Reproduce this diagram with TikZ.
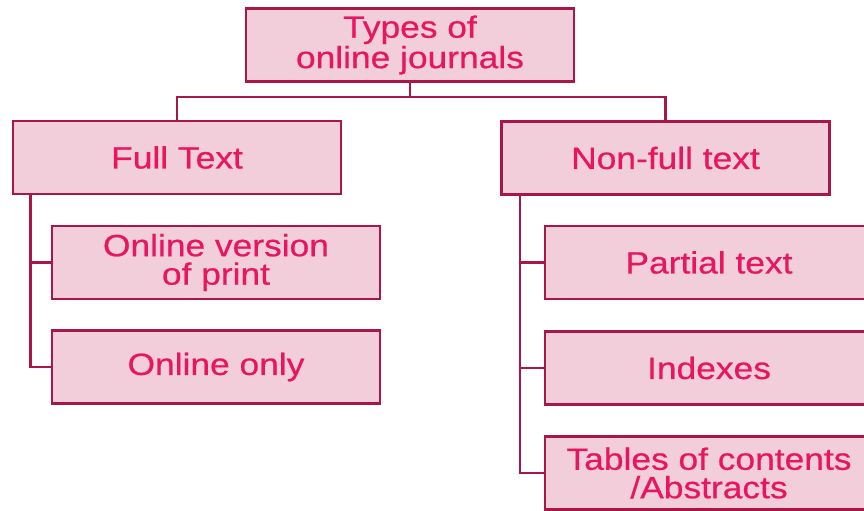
\documentclass[tikz,border=0pt]{standalone}
\usepackage{fontspec}
\setmainfont[FakeStretch=1.15, FakeBold=0.6]{Liberation Sans}
\usetikzlibrary{shadows}
\definecolor{boxfill}{HTML}{F2CEDA}
\definecolor{boxline}{HTML}{A8174A}
\definecolor{boxtext}{HTML}{E8155F}
\tikzset{
    typebox/.style={rectangle, draw=boxline, line width=1.6pt, fill=boxfill,
        text=boxtext, minimum width=6.56cm, minimum height=1.46cm, align=center,
        font=\fontsize{17.5}{16.2}\selectfont,
        drop shadow={shadow xshift=0.8pt, shadow yshift=-0.8pt, opacity=0.45, fill=black!60}},
    link/.style={draw=boxline, line width=1.4pt}
}
\begin{document}
\begin{tikzpicture}[x=0.02cm, y=0.02cm]
            \useasboundingbox (0,0) rectangle (864,510);
            % Defining the boxes
            \node[typebox] (types) at (410,465) {Types of\\online journals};
            \node[typebox] (full) at (177,352.5) {Full Text};
            \node[typebox] (nonfull) at (665.5,352) {Non-full text};
            \node[typebox] (onver) at (216,247.5) {Online version\\of print};
            \node[typebox] (ononly) at (216,143) {Online only};
            \node[typebox] (partial) at (709,247.5) {Partial text};
            \node[typebox] (indexes) at (709,142) {Indexes};
            \node[typebox] (tables) at (709,37) {Tables of contents\\/Abstracts};
            % Drawing the edges of the tree
            \draw[link] (types.south) -- ++(0,-14) -| (full.north);
            \draw[link] (types.south) -- ++(0,-14) -| (nonfull.north);
            \draw[link] (full.south west) ++(19,0) |- (ononly.west);
            \draw[link] (onver.west) -- ++(-20,0);
            \draw[link] (nonfull.south west) ++(20,0) |- (tables.west);
            \foreach \n in {partial,indexes} {
                    \draw[link] (\n.west) -- ++(-23,0);
                }
        \end{tikzpicture}
\end{document}
